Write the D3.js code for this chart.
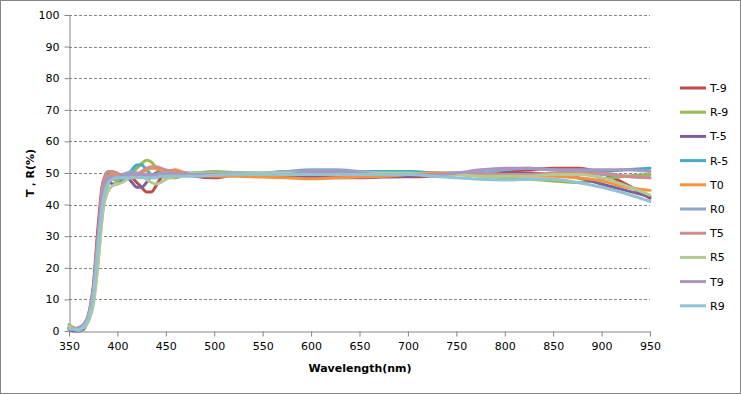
<!DOCTYPE html>
<html>
<head>
<meta charset="utf-8">
<script src="https://cdn.jsdelivr.net/npm/d3@7"></script>
<style>
  body { margin: 0; background: #fff; }
  text { font-family: "DejaVu Sans", sans-serif; fill: #000; }
</style>
</head>
<body>
<main></main>
<script>
// T / R spectra

const wavelength = [350,355,360,365,370,375,380,385,390,395,400,405,410,415,420,425,430,435,440,445,450,460,470,480,500,525,550,575,600,625,650,675,700,725,750,775,800,825,850,875,900,925,950];

const seriesNames = ["T-9","R-9","T-5","R-5","T0","R0","T5","R5","T9","R9"];
const seriesColors = ["#BE4B48","#98B954","#7D60A0","#46AAC5","#F69240","#8EA5CB","#CE8E8D","#B5CA92","#A997C1","#92C3D4"];

const tm9 = [1,0.5,1,2,5,14,33,47,49.5,49,48.5,49,49,48.5,47,45.5,44,44,46,48.5,50,50.5,50,49,48.5,49.5,49.5,49.5,49,49,49,49,48.8,49,49.5,50,50.5,51,51.5,51.5,50,46.5,42];
const rm9 = [2,1,0.5,1.5,3.5,9,22,38,46,48,47.5,48,49,50,51.5,53,54,53.5,51.5,49.5,48.5,48.5,49.5,50,50.5,50,49.5,49.5,49.5,49.5,49.5,49.5,50.5,50,49.5,49,48.5,48,47.5,47,48,49,49.5];
const tm5 = [0.5,0,0,0.5,4,11,27,43,48,46.5,46.5,47.5,48.5,47,45.5,45.5,47,49,50,50,49.5,49,49.5,49.5,49.5,50,49.5,49,48.5,48.5,48.5,48.7,49,49.5,49.5,50,50,50,49.5,48.5,46.5,44.5,42.5];
const rm5 = [1,0.5,1,1.5,4,10,26,43,50,49.5,48.5,48,49,51,52.5,52.5,51,49.5,48.5,49,49.5,50,50,50,50,50,50,50.5,50.5,50.5,50.5,50.5,50.5,50,50,49.5,49.5,49.5,49.5,50,50.5,51,51.5];
const t0 = [0.5,1,0.5,1,3.5,10,26,42,49,49.5,49.5,49,48.5,48.5,49,50,51,51.5,51.5,51,50.5,51,50,49.5,49,49,48.7,48.5,48.2,48.5,48.7,49,49.5,50,50,50,49.5,49,49,48.5,47.5,45.5,44.5];
const r0 = [1,0.5,0,1,4,10,25,41,47.5,48.5,49,49.5,50,50.5,50,49.5,49,49,49.5,50,50,50,50,49.5,49.5,50,50,50.5,51,51,50.5,50,49.5,49.5,49.5,50,51,51.5,51,50,49.5,49,48.5];
const t5 = [1,0.5,1,1.5,4.5,12,30,47,50.5,50.5,50,49,48.5,48.5,49.5,50.5,51.5,52,52,51.5,51,50.5,50,49.5,49.5,49.5,49.5,49.5,49.5,49.5,49.5,49.5,49.5,49.5,49.5,49.5,49.5,49.5,50,50,50,49,48.5];
const r5 = [1.5,0.5,1,1,3,8,21,38,44,46,46.5,47,48,49,49.5,49,48,47,46.5,47,48,49,49.5,50,50,50,50,50,50,50,50,50,50,49.5,49.5,49,49,49,49.5,49.5,48.5,46,43];
const t9 = [0.5,0.5,1,2,5,13,30,44,48.5,49,48.5,48.5,49,49.5,49.5,49.5,49.5,49.5,49.5,49.5,49.5,49.5,49.5,49.5,49.7,49.7,49.5,49.5,50.5,50.5,50,49.5,49.5,49.5,50,51,51.5,51.5,51,51,51,51,50.5];
const r9 = [1,0.5,0.5,1.5,4,11,27,41,46.5,48,48.5,48.5,48.5,48.5,48.5,48.5,48.5,48.5,48.5,49,49,49,49,49,49.3,49.5,49.5,49.5,49.5,49.5,49.5,49.5,49.5,49,48.5,48,47.8,48,48,47,45.5,43.5,41];

const seriesValues = [tm9, rm9, tm5, rm5, t0, r0, t5, r5, t9, r9];

const xTicks = d3.range(350, 951, 50);
const yTicks = d3.range(0, 101, 10);

document.addEventListener('DOMContentLoaded', function(){

  const w = 741, h = 394;

  const svg = d3.select("main")
    .append("svg")
    .attr("width", w)
    .attr("height", h);

  // chart border
  svg.append("rect")
    .attr("x", 0.5).attr("y", 0.5)
    .attr("width", w - 1).attr("height", h - 1)
    .attr("fill", "#fff")
    .attr("stroke", "#868686");

  const x = d3.scaleLinear().domain([350, 950]).range([69, 650]);
  const y = d3.scaleLinear().domain([0, 100]).range([331, 15]);

  // gridlines
  svg.append("g")
    .selectAll("line")
    .data(yTicks.filter(d => d > 0))
    .enter()
    .append("line")
    .attr("x1", x(350)).attr("x2", x(950))
    .attr("y1", d => Math.round(y(d)) + 0.5)
    .attr("y2", d => Math.round(y(d)) + 0.5)
    .attr("stroke", "#868686")
    .attr("stroke-dasharray", "3,2");

  // axes
  const xAxis = svg.append("g")
    .attr("transform", "translate(0," + (Math.round(y(0)) + 0.5) + ")")
    .call(d3.axisBottom(x).tickValues(xTicks).tickSize(5).tickPadding(6).tickSizeOuter(0));

  const yAxis = svg.append("g")
    .attr("transform", "translate(" + (Math.round(x(350)) + 0.5) + ",0)")
    .call(d3.axisLeft(y).tickValues(yTicks).tickSize(5).tickPadding(5).tickSizeOuter(0));

  [xAxis, yAxis].forEach(g => {
    g.select(".domain").attr("stroke", "#868686");
    g.selectAll(".tick line").attr("stroke", "#868686");
    g.selectAll(".tick text")
      .attr("font-family", "DejaVu Sans")
      .attr("font-size", 11)
      .attr("fill", "#000");
  });

  // series lines
  const line = d3.line()
    .x((d, i) => x(wavelength[i]))
    .y(d => y(d))
    .curve(d3.curveMonotoneX);

  svg.append("g")
    .selectAll("path")
    .data(seriesValues)
    .enter()
    .append("path")
    .attr("d", line)
    .attr("fill", "none")
    .attr("stroke", (d, i) => seriesColors[i])
    .attr("stroke-width", 3)
    .attr("stroke-linejoin", "round")
    .attr("stroke-linecap", "round");

  // axis titles
  svg.append("text")
    .attr("x", 360).attr("y", 372)
    .attr("text-anchor", "middle")
    .attr("font-family", "Liberation Sans")
    .attr("font-weight", "bold")
    .attr("font-size", 11)
    .text("Wavelength(nm)");

  svg.append("text")
    .attr("transform", "translate(34,173) rotate(-90)")
    .attr("text-anchor", "middle")
    .attr("font-family", "Liberation Sans")
    .attr("font-weight", "bold")
    .attr("font-size", 11)
    .text("T，R(%)");

  // legend
  const legend = svg.append("g")
    .selectAll("g")
    .data(seriesNames)
    .enter()
    .append("g")
    .attr("transform", (d, i) => "translate(680," + (88 + i * 24.2) + ")");

  legend.append("line")
    .attr("x1", 0).attr("x2", 26)
    .attr("stroke", (d, i) => seriesColors[i])
    .attr("stroke-width", 3);

  legend.append("text")
    .attr("x", 30).attr("y", 4)
    .attr("font-size", 11)
    .text(d => d);
});
</script>
</body>
</html>
